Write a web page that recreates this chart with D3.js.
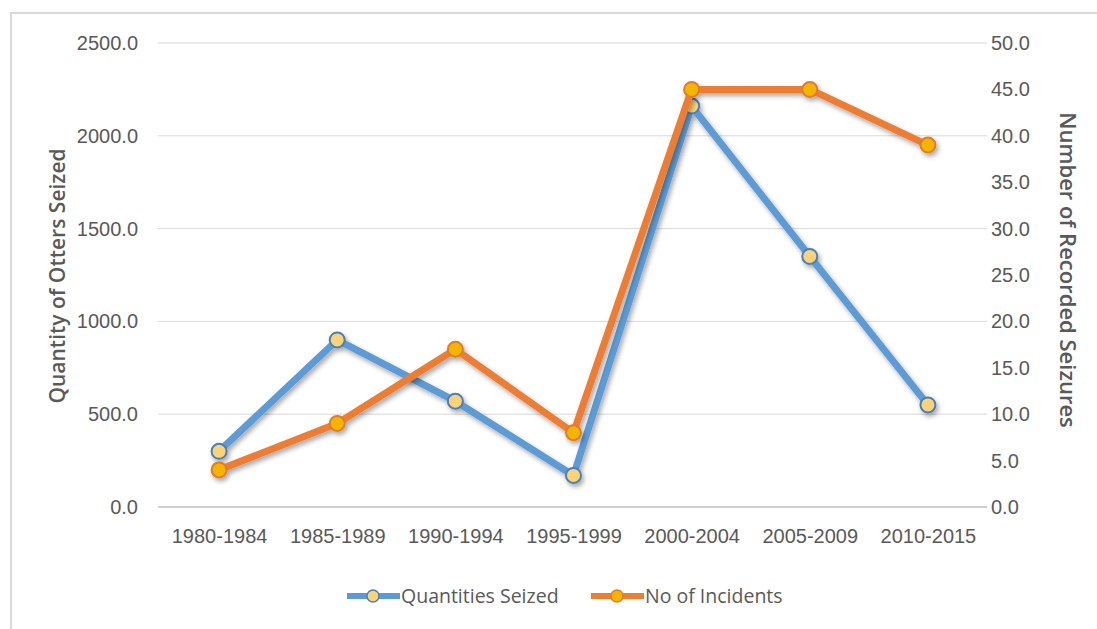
<!DOCTYPE html>
<html>
<head>
<meta charset="utf-8">
<script src="https://cdn.jsdelivr.net/npm/d3@7"></script>
<style>
  body { margin: 0; background: #fff; }
  svg { display: block; font-family: "Open Sans", "Noto Sans", sans-serif; }
</style>
</head>
<body>
<svg id="chart" width="1097" height="629"></svg>
<script>
const periods = ["1980-1984", "1985-1989", "1990-1994", "1995-1999", "2000-2004", "2005-2009", "2010-2015"];
const quantitiesSeized = [300, 900, 570, 170, 2160, 1350, 550];
const noOfIncidents = [4, 9, 17, 8, 45, 45, 39];
const leftTicks = [0, 500, 1000, 1500, 2000, 2500];
const rightTicks = [0, 5, 10, 15, 20, 25, 30, 35, 40, 45, 50];

const svg = d3.select("#chart");
const marginLeft = 160, plotRight = 987, plotTop = 43, plotBottom = 507;
const textColor = "#595959";

// outer chart border (only top/left are visible in the frame)
svg.append("rect")
  .attr("x", 11).attr("y", 13)
  .attr("width", 1200).attr("height", 700)
  .attr("fill", "none").attr("stroke", "#d9d9d9").attr("stroke-width", 2);

const defs = svg.append("defs");
const shadow = defs.append("filter").attr("id", "shadow")
  .attr("x", "-20%").attr("y", "-20%").attr("width", "140%").attr("height", "140%");
shadow.append("feDropShadow")
  .attr("dx", 2).attr("dy", 3).attr("stdDeviation", 2.5)
  .attr("flood-color", "#000").attr("flood-opacity", 0.35);

const xScale = d3.scalePoint().domain(periods).range([marginLeft, plotRight]).padding(0.5);
const yScale = d3.scaleLinear().domain([0, 2500]).range([plotBottom, plotTop]);
const yScaleRev = d3.scaleLinear().domain([0, 50]).range([plotBottom, plotTop]);

// gridlines
svg.append("g")
  .selectAll("line")
  .data(leftTicks.slice(1))
  .enter()
  .append("line")
  .attr("x1", marginLeft - 2).attr("x2", plotRight)
  .attr("y1", (d) => yScale(d)).attr("y2", (d) => yScale(d))
  .attr("stroke", "#d9d9d9").attr("stroke-width", 1);

svg.append("line")
  .attr("x1", marginLeft - 2).attr("x2", plotRight)
  .attr("y1", yScale(0)).attr("y2", yScale(0))
  .attr("stroke", "#d0d0d0").attr("stroke-width", 2);

// left axis
const leftAxis = svg.append("g")
  .attr("transform", `translate(${marginLeft - 19},0)`)
  .call(d3.axisLeft(yScale).tickValues(leftTicks).tickFormat(d3.format(".1f")).tickSize(0));
leftAxis.select(".domain").remove();
leftAxis.selectAll("text").attr("fill", textColor).attr("font-size", 20).attr("dx", 0);

// right axis
const rightAxis = svg.append("g")
  .attr("transform", `translate(${plotRight + 1},0)`)
  .call(d3.axisRight(yScaleRev).tickValues(rightTicks).tickFormat(d3.format(".1f")).tickSize(0));
rightAxis.select(".domain").remove();
rightAxis.selectAll("text").attr("fill", textColor).attr("font-size", 20);

// bottom axis
const bottomAxis = svg.append("g")
  .attr("transform", `translate(0,${plotBottom + 17})`)
  .call(d3.axisBottom(xScale).tickSize(0));
bottomAxis.select(".domain").remove();
bottomAxis.selectAll("text").attr("fill", textColor).attr("font-size", 20).attr("dy", "0.8em");

// axis titles
svg.append("text")
  .attr("transform", `translate(65,276) rotate(-90)`)
  .attr("text-anchor", "middle")
  .attr("fill", textColor).attr("font-size", 21).attr("font-weight", 600)
  .text("Quantity of Otters Seized");

svg.append("text")
  .attr("transform", `translate(1060,270) rotate(90)`)
  .attr("text-anchor", "middle")
  .attr("fill", textColor).attr("font-size", 22).attr("font-weight", 600)
  .text("Number of Recorded Seizures");

const series = [
  { name: "Quantities Seized", values: quantitiesSeized, scale: yScale, line: "#5b9bd5", fill: "#fdd37a", stroke: "#4a7fb5" },
  { name: "No of Incidents", values: noOfIncidents, scale: yScaleRev, line: "#ed7d31", fill: "#f4b400", stroke: "#e07b2a" },
];

series.forEach((s) => {
  const g = svg.append("g").attr("filter", "url(#shadow)");
  const line = d3.line()
    .x((d, i) => xScale(periods[i]))
    .y((d) => s.scale(d));
  g.append("path")
    .datum(s.values)
    .attr("d", line)
    .attr("fill", "none")
    .attr("stroke", s.line)
    .attr("stroke-width", 7)
    .attr("stroke-linejoin", "round");
  g.selectAll("circle")
    .data(s.values)
    .enter()
    .append("circle")
    .attr("cx", (d, i) => xScale(periods[i]))
    .attr("cy", (d) => s.scale(d))
    .attr("r", 7.5)
    .attr("fill", s.fill)
    .attr("stroke", s.stroke)
    .attr("stroke-width", 2);
});

// legend
const legendY = 596;
const legendItems = [
  { x: 347, s: series[0] },
  { x: 591, s: series[1] },
];
legendItems.forEach(({ x, s }) => {
  const g = svg.append("g");
  g.append("line")
    .attr("x1", x).attr("x2", x + 53)
    .attr("y1", legendY).attr("y2", legendY)
    .attr("stroke", s.line).attr("stroke-width", 6);
  g.append("circle")
    .attr("cx", x + 26).attr("cy", legendY).attr("r", 6)
    .attr("fill", s.fill).attr("stroke", s.stroke).attr("stroke-width", 1.5);
  g.append("text")
    .attr("x", x + 54).attr("y", legendY)
    .attr("dy", "0.35em")
    .attr("fill", textColor).attr("font-size", 19.5)
    .text(s.name);
});
</script>
</body>
</html>
